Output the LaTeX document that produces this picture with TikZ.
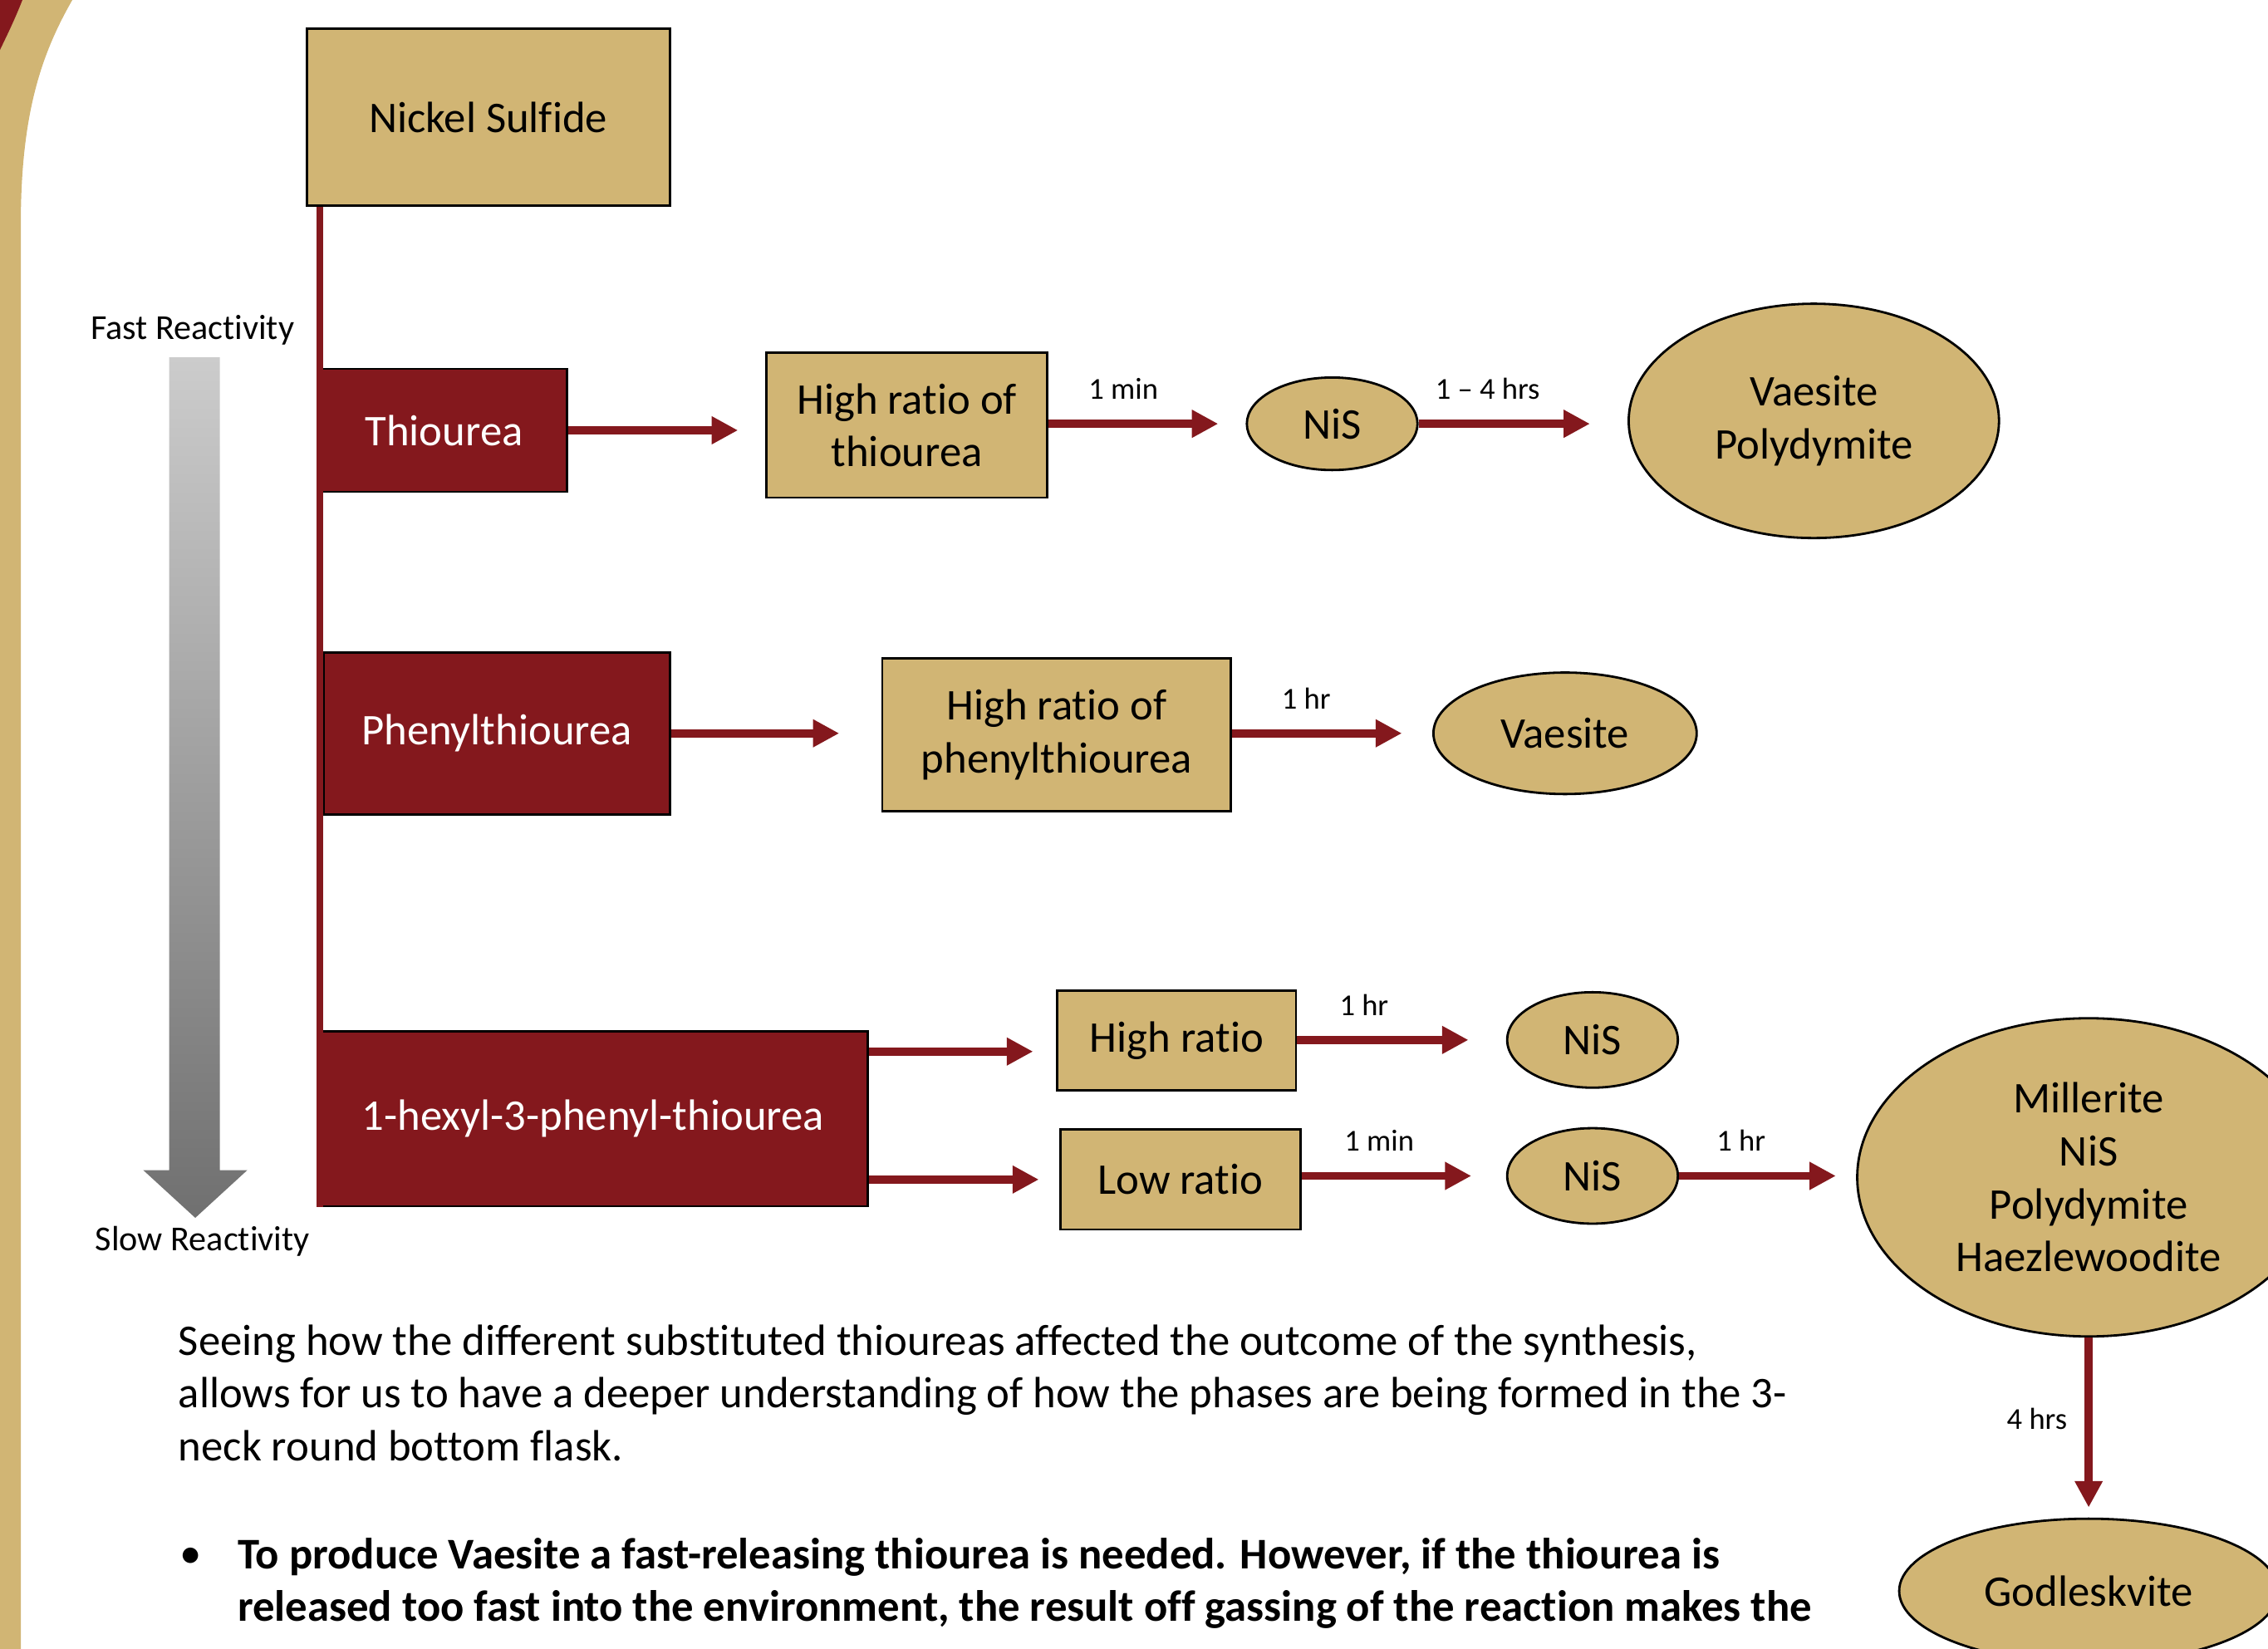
\documentclass[tikz,border=0pt]{standalone}
\usepackage{fontspec}
\setmainfont{Carlito}[Ligatures={TeX,NoCommon}]
\usetikzlibrary{shapes.geometric,arrows.meta}

\definecolor{maroon}{RGB}{132,24,29}
\definecolor{gold}{RGB}{209,181,116}
\newcommand{\px}{0.01741cm}
\newcommand{\bigfont}{\fontsize{15}{18.1}\selectfont}

\tikzset{
  goldbox/.style={draw=black, line width=0.8pt, fill=gold, inner sep=0pt, align=center, font=\bigfont},
  redbox/.style={goldbox, fill=maroon, text=white},
  phase/.style={goldbox, ellipse},
  react/.style={draw=maroon, line width=2.8pt, -{Triangle[width=9pt,length=9pt]}},
  time/.style={font=\fontsize{10.4}{12}\selectfont, inner sep=2pt},
  para/.style={align=left, inner sep=0pt, font=\bigfont},
}

\begin{document}
\begin{tikzpicture}[x=\px, y=-\px]
\useasboundingbox (0,0) rectangle (1568,1140);
\clip (0,0) rectangle (1568,1140);
% Sulfuro de niquel segun la tiourea usada
\fill[gold] (0,0) -- (50,0) .. controls (30,35) and (15,75) .. (14.4,150) -- (14.4,1140) -- (0,1140) -- cycle;
\fill[maroon] (0,0) -- (15.5,0) .. controls (10,14) and (5,24) .. (0,34.5) -- cycle;
\shade[top color={rgb,255:red,204;green,204;blue,204}, bottom color={rgb,255:red,112;green,112;blue,112}]
  (117,247) -- (152,247) -- (152,809) -- (171,809) -- (135,842) -- (99,809) -- (117,809) -- cycle;
\node[font=\fontsize{12}{14}\selectfont] (fast) at (133,228) {Fast Reactivity};
\node[font=\fontsize{12}{14}\selectfont] (slow) at (140,858) {Slow Reactivity};

\node[goldbox, minimum width=251*\px, minimum height=122*\px] (nickel) at (337.5,81) {Nickel Sulfide};
\node[redbox, minimum width=170*\px, minimum height=85*\px] (thio) at (307,297.5) {Thiourea};
\node[goldbox, minimum width=194*\px, minimum height=100*\px] (hrthio) at (627,294) {High ratio of\\thiourea};
\node[phase, minimum width=118*\px, minimum height=64*\px] (nis1) at (921,293) {NiS};
\node[phase, minimum width=256*\px, minimum height=162*\px] (vaepol) at (1254,291) {Vaesite\\Polydymite};
\node[redbox, minimum width=239*\px, minimum height=112*\px] (phen) at (343.5,507) {Phenylthiourea};
\node[goldbox, minimum width=241*\px, minimum height=106*\px] (hrphen) at (730.5,508) {High ratio of\\phenylthiourea};
\node[phase, minimum width=182*\px, minimum height=84*\px] (vae) at (1082,507) {Vaesite};
\node[redbox, minimum width=380*\px, minimum height=121*\px] (hexyl) at (410,773.5) {1-hexyl-3-phenyl-thiourea};
\node[goldbox, minimum width=165*\px, minimum height=69*\px] (hr) at (813.5,719.5) {High ratio};
\node[goldbox, minimum width=166*\px, minimum height=69*\px] (lr) at (816,815.5) {Low ratio};
\node[phase, minimum width=118*\px, minimum height=66*\px] (nis2) at (1101,719) {NiS};
\node[phase, minimum width=118*\px, minimum height=66*\px] (nis3) at (1101,813) {NiS};
\node[phase, minimum width=320*\px, minimum height=220*\px] (mix) at (1444,814) {Millerite\\NiS\\Polydymite\\Haezlewoodite};
\node[phase, minimum width=262*\px, minimum height=100*\px] (god) at (1444,1100) {Godleskvite};

\draw[maroon, line width=2.4pt] ([xshift=10*\px]nickel.south west) -- ([xshift=10*\px]nickel.south west |- hexyl.south);

\draw[react, shorten >=19*\px] (thio.east) -- (thio.east -| hrthio.west);
\draw[react, shorten >=19*\px] (hrthio.east |- nis1.west) -- (nis1.west) node[time, pos=.38, above=5pt] {1 min};
\draw[react, shorten >=26*\px] (nis1.east) -- (nis1.east -| vaepol.west) node[time, pos=.33, above=5pt] {1 – 4 hrs};
\draw[react, shorten >=29*\px] (phen.east) -- (phen.east -| hrphen.west);
\draw[react, shorten >=21*\px] (hrphen.east |- vae.west) -- (vae.west) node[time, pos=.37, above=5pt] {1 hr};
\draw[react, shorten >=16*\px] ([yshift=-7.5*\px]hr.west -| hexyl.east) -- ([yshift=-7.5*\px]hr.west);
\draw[react, shorten >=14*\px] (lr.west -| hexyl.east) -- (lr.west);
\draw[react, shorten >=26*\px] (hr.east |- nis2.west) -- (nis2.west) node[time, pos=.32, above=5pt] {1 hr};
\draw[react, shorten >=24*\px] (lr.east |- nis3.west) -- (nis3.west) node[time, pos=.38, above=5pt] {1 min};
\draw[react, shorten >=14*\px] (nis3.east) -- (nis3.east -| mix.west) node[time, pos=.35, above=5pt] {1 hr};
\draw[react, shorten >=7*\px] (mix.south) -- (god.north) node[time, pos=.45, left=4pt] {4 hrs};

\node[para, anchor=base west] (summary) at (123,1010) {Seeing how the different substituted thioureas affected the outcome of the synthesis,\\allows for us to have a deeper understanding of how the phases are being formed in the 3-\\neck round bottom flask.};
\node[para, anchor=base west] (dot) at (124,1084) {•};
\node[para, anchor=base west, font=\bigfont\bfseries] (note) at (164,1121) {To produce Vaesite a fast-releasing thiourea is needed. However, if the thiourea is\\released too fast into the environment, the result off gassing of the reaction makes the};
\end{tikzpicture}
\end{document}
